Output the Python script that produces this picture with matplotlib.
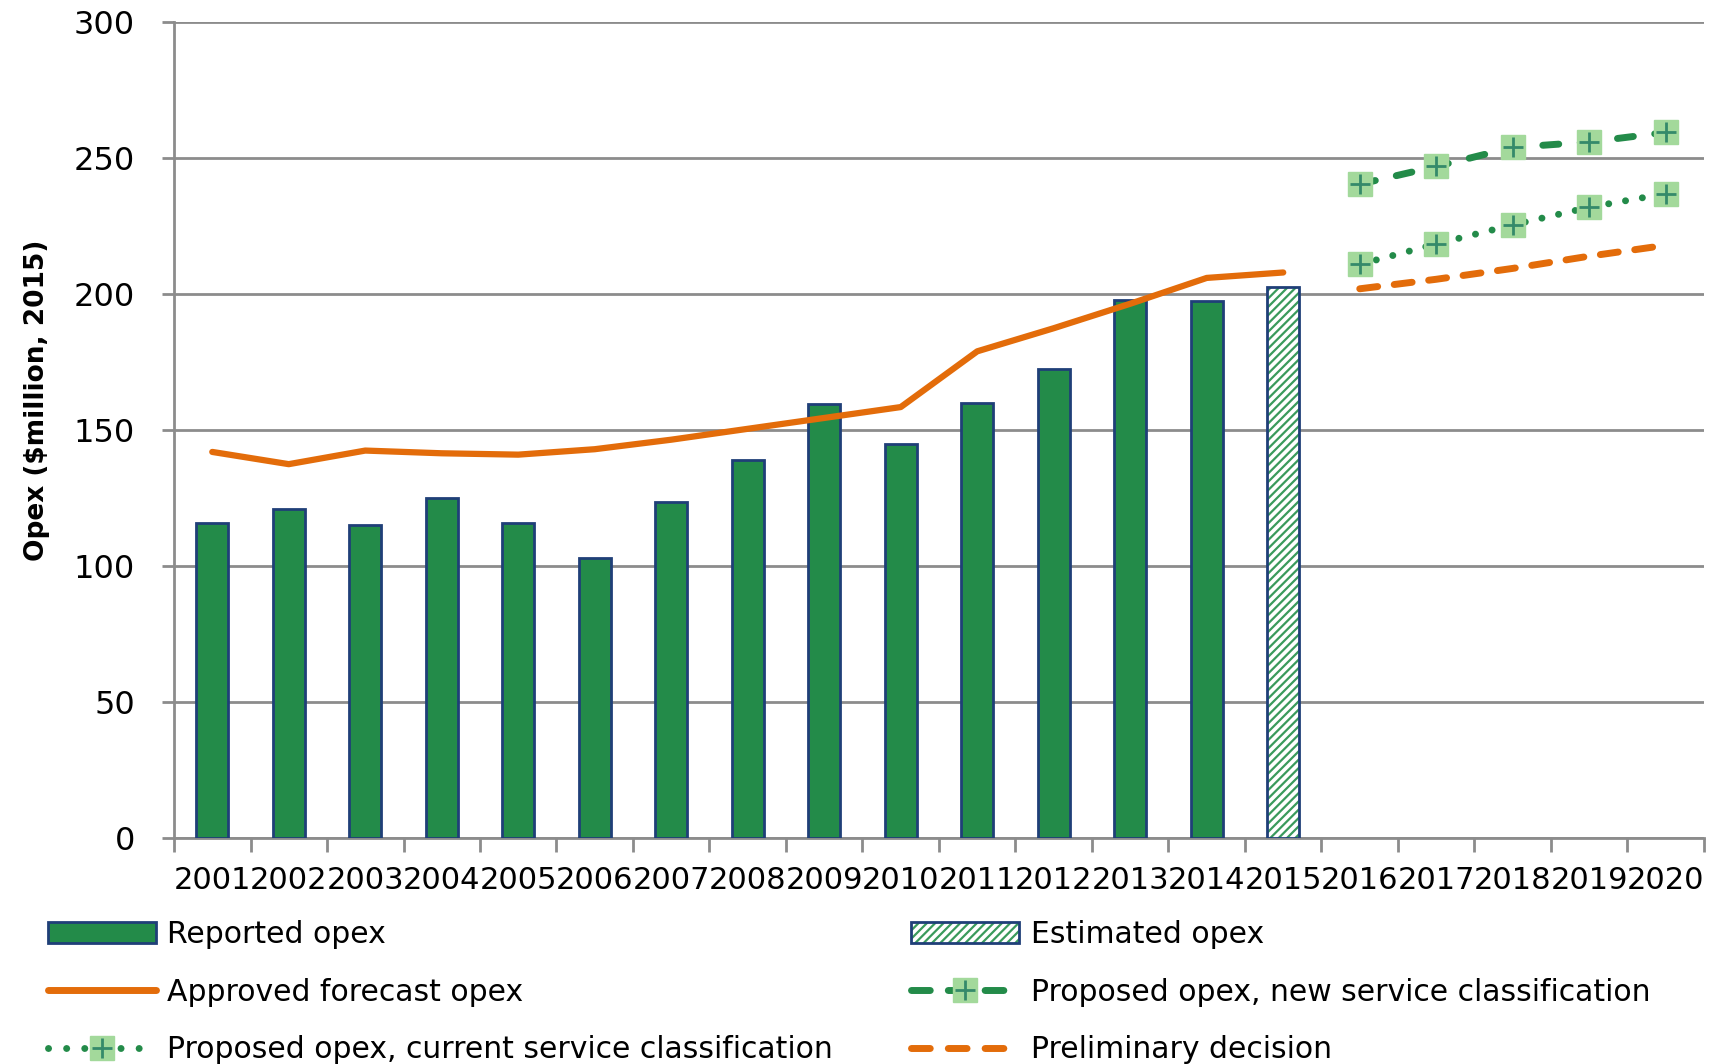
import matplotlib.pyplot as plt
from matplotlib.lines import Line2D
from matplotlib.patches import Patch
from matplotlib.legend_handler import HandlerTuple

years = [str(y) for y in range(2001, 2021)]
reported = [116, 121, 115, 125, 116, 103, 123.5, 139, 159.5, 145, 160, 172.5, 198, 197.5]
estimated = [202.5]
approved = [142, 137.5, 142.5, 141.5, 141, 143, 146.5, 150.5, 154.5, 158.5, 179, 187.5, 196.5, 206, 208]
prop_new = [240.5, 247, 254, 256, 259.5]
prop_current = [211, 218.5, 225.5, 232, 237]
prelim = [202, 205.5, 209.5, 214, 218]

green = '#238b49'
hatch_green = '#3a9a5c'
navy = '#1f3f78'
orange = '#e36c0a'
light = '#a3d99b'
plus_col = '#358a6a'
grid = '#8c8c8c'

plt.rcParams['font.family'] = 'DejaVu Sans'
plt.rcParams['hatch.linewidth'] = 1.6

fig = plt.figure(figsize=(17.16, 10.64), dpi=100)
ax = fig.add_axes([0.1014, 0.2124, 0.8916, 0.7666])

x = list(range(len(years)))
ax.bar(x[:14], reported, width=0.42, color=green, edgecolor=navy, linewidth=2, zorder=3)
ax.bar(x[14:15], estimated, width=0.42, color='white', edgecolor=hatch_green, hatch='////', linewidth=0, zorder=3)
ax.bar(x[14:15], estimated, width=0.42, fill=False, edgecolor=navy, linewidth=2, zorder=4)

ax.plot(x[:15], approved, color=orange, lw=4.5, solid_capstyle='round', zorder=5)
ax.plot(x[15:], prelim, color=orange, lw=5, dashes=(2.6, 2.4), dash_capstyle='round', zorder=5)
ax.plot(x[15:], prop_new, color=green, lw=5, dashes=(2.3, 3.1), dash_capstyle='round', zorder=5)
ax.plot(x[15:], prop_current, color=green, lw=5, dashes=(0.01, 2.45), dash_capstyle='round', zorder=5)
for s in (prop_new, prop_current):
    ax.plot(x[15:], s, ls='none', marker='s', ms=17, mfc=light, mec=light, zorder=6)
    ax.plot(x[15:], s, ls='none', marker='+', ms=15, mew=2, color=plus_col, zorder=7)

ax.set_xlim(-0.5, 19.5)
ax.set_ylim(0, 300)
ax.set_yticks(range(0, 301, 50))
ax.yaxis.grid(True, color=grid, lw=2)
ax.set_axisbelow(True)
ax.set_xticks([i - 0.5 for i in range(21)], minor=False)
ax.set_xticklabels([])
ax.set_xticks(x, minor=True)
ax.set_xticklabels(years, minor=True, fontsize=22)
ax.tick_params(axis='x', which='minor', length=0, pad=20)
ax.tick_params(axis='x', which='major', length=10, width=2, color=grid)
ax.tick_params(axis='y', length=9, width=2, color=grid, labelsize=23, pad=19)
for sp in ('top', 'right'):
    ax.spines[sp].set_visible(False)
for sp in ('left', 'bottom'):
    ax.spines[sp].set_color(grid)
    ax.spines[sp].set_linewidth(2)
ax.set_ylabel('Opex ($million, 2015)', fontsize=19, fontweight='bold')
ax.yaxis.set_label_coords(-0.081, 0.536)


def sq_plus():
    return (Line2D([], [], ls='none', marker='s', ms=17, mfc=light, mec=light),
            Line2D([], [], ls='none', marker='+', ms=15, mew=2, color=plus_col))


h_rep = Patch(facecolor=green, edgecolor=navy, linewidth=2)
h_est = (Patch(facecolor='white', edgecolor=hatch_green, hatch='////', linewidth=0),
         Patch(fill=False, edgecolor=navy, linewidth=2))
h_app = Line2D([], [], color=orange, lw=5, solid_capstyle='round')
h_new = (Line2D([], [], color=green, lw=5, dashes=(2.7, 2.6), dash_capstyle='round'),) + sq_plus()
h_cur = (Line2D([], [], color=green, lw=5, dashes=(0.01, 2.6), dash_capstyle='round'),) + sq_plus()
h_pre = Line2D([], [], color=orange, lw=5, dashes=(2.7, 2.6), dash_capstyle='round')

common = dict(frameon=False, fontsize=21.5, handlelength=3.6, handletextpad=0.4,
              labelspacing=0.95, borderaxespad=0, borderpad=0, loc='upper left',
              handler_map={tuple: HandlerTuple(ndivide=1, pad=0)})
leg1 = fig.legend([h_rep, h_app, h_cur],
                  ['Reported opex', 'Approved forecast opex',
                   'Proposed opex, current service classification'],
                  bbox_to_anchor=(0.028, 0.135), **common)
leg2 = fig.legend([h_est, h_new, h_pre],
                  ['Estimated opex', 'Proposed opex, new service classification',
                   'Preliminary decision'],
                  bbox_to_anchor=(0.531, 0.135), **common)

fig.savefig('out.png', dpi=100)
